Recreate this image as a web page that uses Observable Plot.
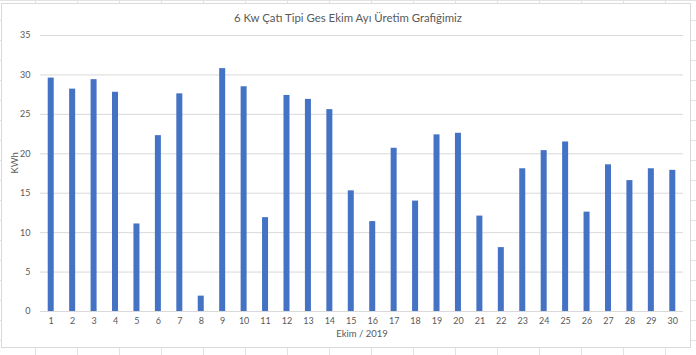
<!DOCTYPE html>
<html>
<head>
<meta charset="utf-8">
<script src="https://cdn.jsdelivr.net/npm/d3@7"></script>
<script src="https://cdn.jsdelivr.net/npm/@observablehq/plot@0.6"></script>
<style>
  html, body { margin: 0; padding: 0; background: #fff; }
  #sheet {
    position: relative; width: 696px; height: 355px; overflow: hidden;
    background-color: #fff;
    background-image:
      linear-gradient(to right, #e2e2e2 1px, transparent 1px),
      linear-gradient(to bottom, #e2e2e2 1px, transparent 1px);
    background-size: 42px 20px;
    background-position: -7px 0px;
  }
  #chart {
    position: absolute; left: 1px; top: 3px; width: 690px; height: 345px;
    background: #fff; border: 1px solid #d9d9d9; box-sizing: border-box;
  }
  #title {
    position: absolute; left: 0; top: 11px; width: 696px; text-align: center;
    font-family: Lato, "Open Sans", sans-serif; font-size: 11.4px; color: #595959;
  }
  #plot { position: absolute; left: 0; top: 0; }
</style>
</head>
<body>
<div id="sheet">
  <div id="chart"></div>
  <div id="plot"></div>
  <div id="title">6 Kw Çatı Tipi Ges Ekim Ayı Üretim Grafiğimiz</div>
</div>
<script>
const days = [1,2,3,4,5,6,7,8,9,10,11,12,13,14,15,16,17,18,19,20,21,22,23,24,25,26,27,28,29,30];
const kwh = [29.6,28.2,29.4,27.8,11.1,22.3,27.6,1.95,30.8,28.5,11.9,27.4,26.9,25.6,15.3,11.4,20.7,14.0,22.4,22.6,12.1,8.1,18.1,20.4,21.5,12.6,18.6,16.6,18.1,17.9];
const yTicks = [0,5,10,15,20,25,30,35];
const xLabel = "Ekim / 2019";
const yLabel = "KWh";

const data = days.map((d, i) => ({day: d, value: kwh[i]}));

const chart = Plot.plot({
  width: 696,
  height: 355,
  marginTop: 35,
  marginBottom: 44,
  marginLeft: 40,
  marginRight: 13,
  style: {fontFamily: "Lato, 'Open Sans', sans-serif", fontSize: "9px", color: "#595959", background: "transparent"},
  x: {domain: days, paddingInner: 0.72, paddingOuter: 0.36, round: false, label: null},
  y: {domain: [0, 35], label: null},
  marks: [
    Plot.gridY(yTicks, {stroke: "#d9d9d9", strokeOpacity: 1}),
    Plot.barY(data, {x: "day", y: "value", fill: "#4472C4"}),
    Plot.ruleY([0], {stroke: "#d9d9d9"}),
    Plot.axisY(yTicks, {tickSize: 0, tickPadding: 10, fill: "#595959", label: null}),
    Plot.axisX({tickSize: 0, tickPadding: 6, fill: "#595959", label: null}),
    Plot.text([xLabel], {frameAnchor: "bottom", lineAnchor: "middle", dy: 22, fill: "#595959", fontSize: 9.5}),
    Plot.text([yLabel], {frameAnchor: "left", dx: -26, rotate: -90, fill: "#595959", fontSize: 9.5})
  ]
});
document.getElementById("plot").appendChild(chart);
</script>
</body>
</html>
